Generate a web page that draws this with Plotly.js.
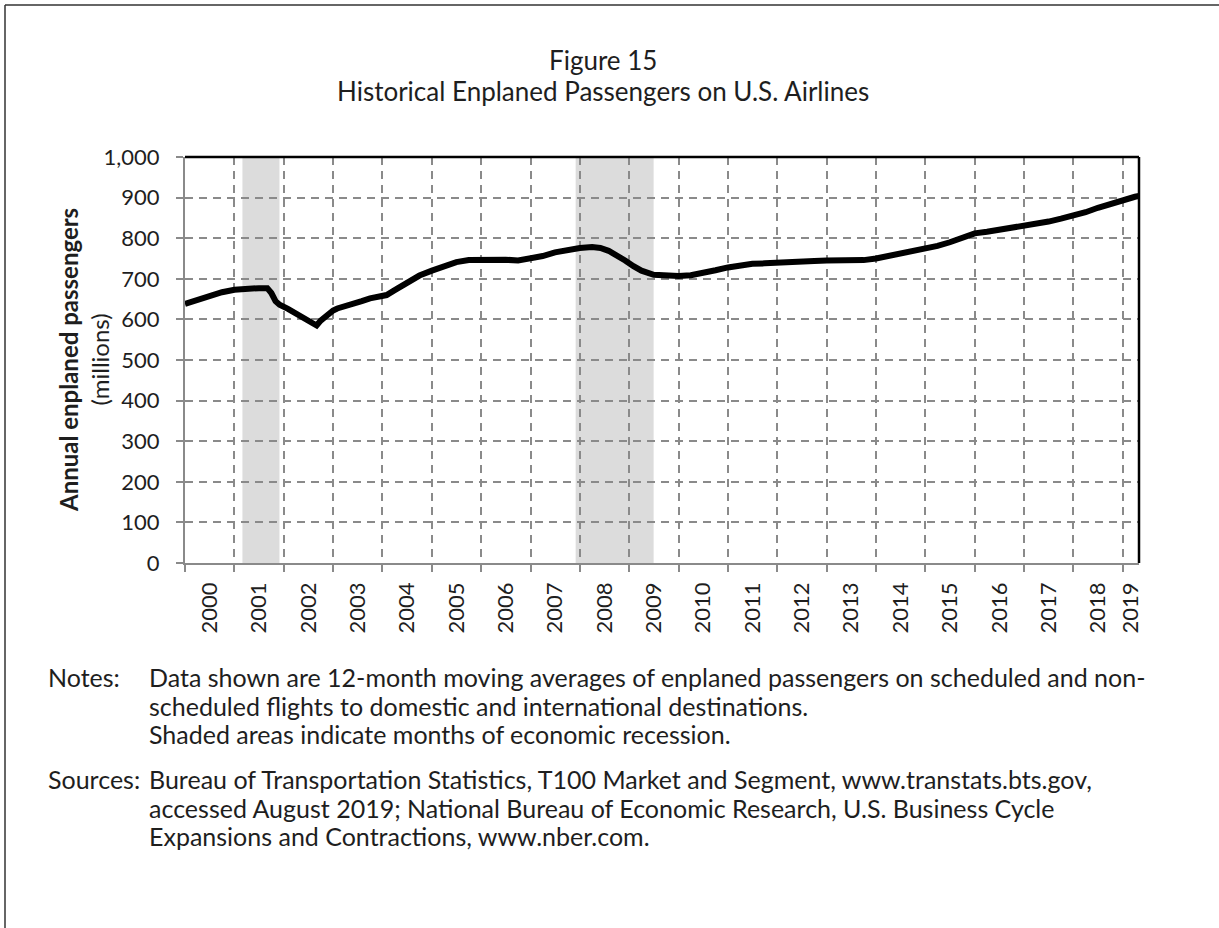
<!DOCTYPE html>
<html>
<head>
<meta charset="utf-8">
<script src="https://cdn.plot.ly/plotly-3.0.1.min.js"></script>
<style>
  html, body { margin: 0; padding: 0; background: #fff; }
  #chart { width: 1219px; height: 928px; }
</style>
</head>
<body>
<div id="chart"></div>
<script>
// Enplaned passengers, 12-month moving average (millions)
const months = [
    '2000-01', '2000-04', '2000-07', '2000-10', '2001-01', '2001-04', '2001-07', '2001-09',
    '2001-10', '2001-11', '2001-12', '2002-02', '2002-05', '2002-08', '2002-09', '2002-10',
    '2002-11', '2003-01', '2003-02', '2003-04', '2003-06', '2003-08', '2003-10', '2003-12',
    '2004-02', '2004-04', '2004-07', '2004-10', '2005-01', '2005-04', '2005-07', '2005-10',
    '2006-01', '2006-04', '2006-07', '2006-10', '2007-01', '2007-04', '2007-07', '2007-10',
    '2008-01', '2008-04', '2008-06', '2008-08', '2008-10', '2008-12', '2009-02', '2009-04',
    '2009-07', '2009-10', '2010-01', '2010-04', '2010-07', '2010-10', '2011-01', '2011-04',
    '2011-07', '2011-10', '2012-01', '2012-04', '2012-07', '2012-10', '2013-01', '2013-04',
    '2013-07', '2013-10', '2014-01', '2014-04', '2014-07', '2014-10', '2015-01', '2015-04',
    '2015-07', '2015-10', '2016-01', '2016-04', '2016-07', '2016-10', '2017-01', '2017-04',
    '2017-07', '2017-10', '2018-01', '2018-04', '2018-07', '2018-10', '2019-01', '2019-04',
    '2019-05'
];
const passengers = [
    638, 648, 658, 667, 673, 676, 677, 677,
    665, 645, 636, 626, 607, 590, 585, 597,
    606, 622, 627, 632, 637, 645, 652, 657,
    660, 672, 692, 708, 720, 731, 741, 746,
    747, 748, 747, 745, 750, 756, 765, 772,
    776, 778, 776, 769, 758, 745, 731, 720,
    710, 707, 707, 709, 714, 721, 728, 733,
    737, 738, 740, 743, 744, 744, 745, 745,
    745, 746, 750, 756, 761, 767, 774, 781,
    790, 802, 812, 816, 821, 825, 829, 834,
    841, 848, 855, 864, 875, 885, 893, 902,
    904
];

// NBER recessions
const recessionStart = ['2001-03-01', '2007-12-01'];
const recessionEnd = ['2001-11-30', '2009-06-30'];

const years = ['2000', '2001', '2002', '2003', '2004', '2005', '2006', '2007', '2008', '2009',
    '2010', '2011', '2012', '2013', '2014', '2015', '2016', '2017', '2018', '2019'];
const yTicks = [0, 100, 200, 300, 400, 500, 600, 700, 800, 900, 1000];

const xStart = '2000-01-01';
const xEnd = '2019-05-01';

const titleLines = ['Figure 15', 'Historical Enplaned Passengers on U.S. Airlines'];
const noteLabel = 'Notes:';
const noteLines = [
    'Data shown are 12-month moving averages of enplaned passengers on scheduled and non-',
    'scheduled flights to domestic and international destinations.',
    'Shaded areas indicate months of economic recession.'
];
const sourceLabel = 'Sources:';
const sourceLines = [
    'Bureau of Transportation Statistics, T100 Market and Segment, www.transtats.bts.gov,',
    'accessed August 2019; National Bureau of Economic Research, U.S. Business Cycle',
    'Expansions and Contractions, www.nber.com.'
];

// page geometry (pixels)
const W = 1219, H = 928;
const L = 185, R = 1139, T = 157, B = 563;
const FONT = 'Lato, "Open Sans", sans-serif';
const GRID = '#8a8a8a';
const INK = '#1e1e1e';

function px(x) { return (x - L) / (R - L); }
function py(y) { return (B - y) / (B - T); }

// year labels sit in the middle of each year interval
const endMs = new Date(xEnd).getTime();
const yearMids = years.map(y => {
    const a = new Date(y + '-01-01').getTime();
    const b = Math.min(new Date((+y + 1) + '-01-01').getTime(), endMs);
    return new Date((a + b) / 2).toISOString().slice(0, 10);
});

const traces = [
    {
        x: months,
        y: passengers,
        type: 'scatter',
        mode: 'lines',
        line: { color: '#000', width: 6 },
        hoverinfo: 'x+y',
        showlegend: false
    },
    {
        // carries the year labels axis
        x: months,
        y: passengers,
        xaxis: 'x2',
        type: 'scatter',
        mode: 'lines',
        line: { color: 'rgba(0,0,0,0)', width: 0 },
        hoverinfo: 'skip',
        showlegend: false
    }
];

const shapes = recessionStart.map((s, i) => ({
    type: 'rect',
    xref: 'x', yref: 'paper',
    x0: s, x1: recessionEnd[i], y0: 0, y1: 1,
    fillcolor: '#dcdcdc',
    line: { width: 0 },
    layer: 'below'
}));
// black frame on top and right of the plot area
shapes.push({ type: 'line', xref: 'paper', yref: 'paper', x0: 0, x1: 1, y0: 1, y1: 1, line: { color: '#000', width: 2.5 } });
shapes.push({ type: 'line', xref: 'paper', yref: 'paper', x0: 1, x1: 1, y0: 0, y1: 1, line: { color: '#000', width: 2.5 } });
// outer page frame (left and top)
shapes.push({ type: 'line', xref: 'paper', yref: 'paper', x0: px(5), x1: px(W + 10), y0: py(5), y1: py(5), line: { color: '#333', width: 1.5 } });
shapes.push({ type: 'line', xref: 'paper', yref: 'paper', x0: px(5), x1: px(5), y0: py(5), y1: py(H + 10), line: { color: '#333', width: 1.5 } });

const textFont = { family: FONT, size: 25, color: INK };
const annotations = [];

// title, one annotation per line
[60, 91].forEach((yPix, i) => {
    annotations.push({
        text: titleLines[i], xref: 'paper', yref: 'paper',
        x: px(603), y: py(yPix), xanchor: 'center', yanchor: 'middle',
        showarrow: false, font: { family: FONT, size: 26, color: INK }
    });
});

annotations.push({
    text: '<b>Annual enplaned passengers</b><br>(millions)',
    xref: 'paper', yref: 'paper',
    x: px(84), y: 0.5,
    xanchor: 'center', yanchor: 'middle',
    textangle: -90,
    showarrow: false,
    font: { family: FONT, size: 24, color: INK }
});

function addBlock(label, lines, yFirst) {
    annotations.push({
        text: label, xref: 'paper', yref: 'paper',
        x: px(46), y: py(yFirst), xanchor: 'left', yanchor: 'middle',
        showarrow: false, font: textFont
    });
    lines.forEach((t, i) => {
        annotations.push({
            text: t, xref: 'paper', yref: 'paper',
            x: px(147), y: py(yFirst + i * 28.5), xanchor: 'left', yanchor: 'middle',
            showarrow: false, font: textFont
        });
    });
}
addBlock(noteLabel, noteLines, 677);
addBlock(sourceLabel, sourceLines, 779);

const layout = {
    width: W,
    height: H,
    margin: { l: L, r: W - R, t: T, b: H - B, pad: 0 },
    paper_bgcolor: '#fff',
    plot_bgcolor: '#fff',
    font: { family: FONT, color: INK },
    xaxis: {
        type: 'date',
        range: [xStart, xEnd],
        tickvals: years.map(y => y + '-01-01'),
        showticklabels: false,
        ticks: 'outside',
        ticklen: 7,
        tickwidth: 2,
        tickcolor: GRID,
        showgrid: true,
        gridcolor: GRID,
        gridwidth: 2,
        griddash: '8px,6px',
        showline: true,
        linecolor: GRID,
        linewidth: 2,
        zeroline: false
    },
    xaxis2: {
        type: 'date',
        overlaying: 'x',
        anchor: 'y',
        side: 'bottom',
        range: [xStart, xEnd],
        tickvals: yearMids,
        ticktext: years,
        tickangle: -90,
        ticks: '',
        ticklabelstandoff: 14,
        showgrid: false,
        showline: false,
        zeroline: false,
        tickfont: { family: FONT, size: 22, color: INK }
    },
    yaxis: {
        range: [0, 1000],
        tickvals: yTicks,
        tickformat: ',',
        ticks: 'outside',
        ticklen: 7,
        tickwidth: 2,
        tickcolor: GRID,
        ticklabelstandoff: 12,
        tickfont: { family: FONT, size: 22, color: INK },
        showgrid: true,
        gridcolor: GRID,
        gridwidth: 2,
        griddash: '8px,6px',
        showline: true,
        linecolor: GRID,
        linewidth: 2,
        zeroline: false
    },
    shapes: shapes,
    annotations: annotations,
    showlegend: false
};

Plotly.newPlot('chart', traces, layout, { displayModeBar: false, staticPlot: true });
</script>
</body>
</html>
